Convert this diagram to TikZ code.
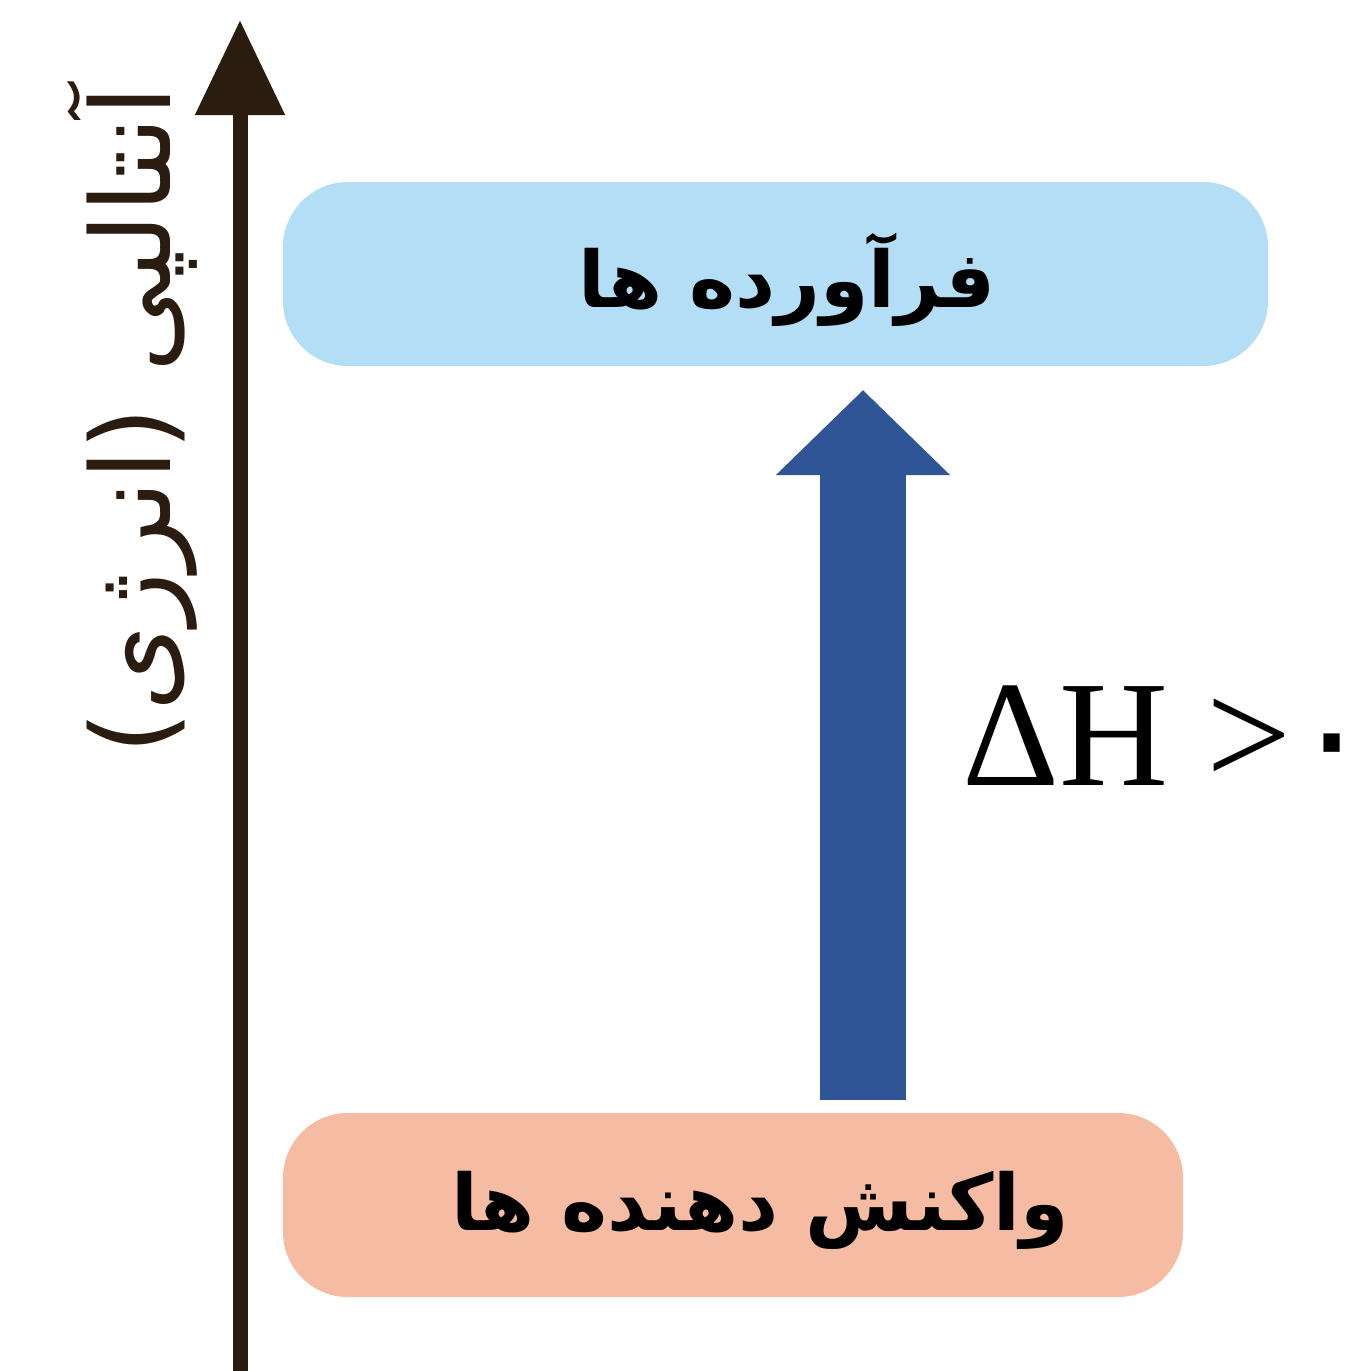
\documentclass[tikz,border=0pt]{standalone}
\usepackage{fontspec}
\usetikzlibrary{arrows.meta}
\TeXXeTstate=1
\newfontfamily\arabicfont[Script=Arabic]{DejaVu Sans}
\newfontfamily\arabicboldfont[Script=Arabic,BoldFont={DejaVu Sans Bold}]{DejaVu Sans}
\newfontfamily\serifdh{Liberation Serif}
\definecolor{axiscol}{HTML}{2B1C10}
\definecolor{prodcol}{HTML}{B3DEF5}
\definecolor{reaccol}{HTML}{F5BBA3}
\definecolor{dhcol}{HTML}{2F5597}
\tikzset{
  levelbox/.style={rounded corners=65pt, inner sep=0pt, draw=none},
  boxtext/.style={inner sep=0pt, font=\arabicboldfont\bfseries\fontsize{78}{86}\selectfont},
  axisline/.style={draw=axiscol, line width=15pt, -{Triangle[length=95pt,width=86pt]}},
  dharrow/.style={draw=dhcol, line width=86pt, -{Triangle[length=85pt,width=169pt]}},
}
\begin{document}
\begin{tikzpicture}[x=1pt,y=-1pt]
\useasboundingbox (0,0) rectangle (1356,1371);
% boxes
\node[levelbox, fill=prodcol, minimum width=985pt, minimum height=184pt] (prod) at (775.5,274) {};
\node[levelbox, fill=reaccol, minimum width=900pt, minimum height=184pt] (reac) at (733,1205) {};
\node[boxtext] (prodtxt) at (787,280) {\beginR فرآورده ها\endR};
\node[boxtext] (reactxt) at (760,1210) {\beginR واکنش دهنده ها\endR};
% axis
\coordinate (axbot) at (240,1371);
\coordinate (axtop) at (240,20);
\draw[axisline] (axbot) -- (axtop);
\node[rotate=90, inner sep=0pt, text=axiscol, font=\arabicfont\fontsize{110}{120}\selectfont] (axlabel) at (132,420) {\beginR آنتالپی (انرژی)\endR};
% delta H arrow
\coordinate (dhbot) at (863,1100);
\coordinate (dhtop) at (863,390);
\draw[dharrow] (dhbot) -- (dhtop);
\node[anchor=base west, inner sep=0pt, font=\serifdh\fontsize{151}{160}\selectfont] (dh) at (962,785) {ΔH >{\arabicfont ۰}};
\end{tikzpicture}
\end{document}
